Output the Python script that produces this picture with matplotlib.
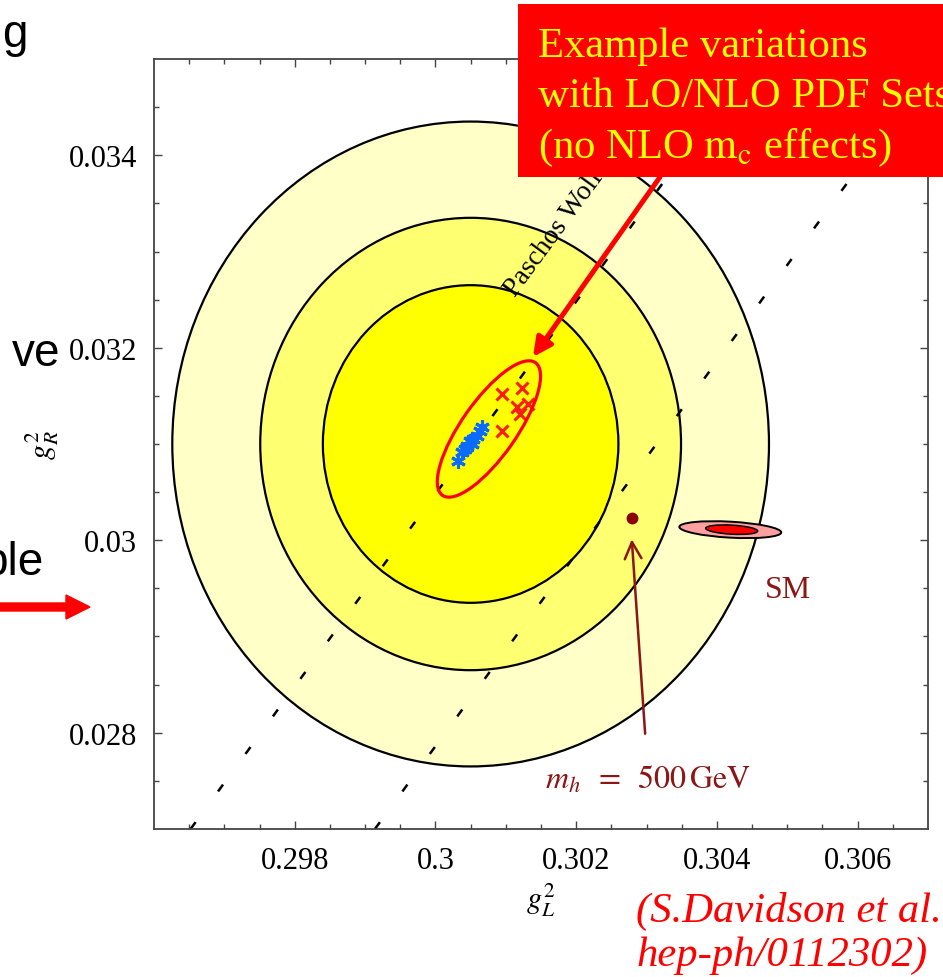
import matplotlib.pyplot as plt
from matplotlib.patches import Ellipse, Rectangle, FancyArrow
from matplotlib.transforms import ScaledTranslation

plt.rcParams['font.family'] = ['Liberation Serif', 'DejaVu Serif']
plt.rcParams['mathtext.fontset'] = 'stix'

# global fit: centre and half-axes of the three contours (outer -> inner)
fit_gl, fit_gr = 0.3005, 0.0310
contour_half_gl = [0.00424, 0.00299, 0.00210]
contour_half_gr = [0.00335, 0.00235, 0.00165]
contour_colours = ['#ffffc8', '#ffff72', '#ffff00']

# Paschos-Wolfenstein lines, g_R^2 = g_L^2 + offset
pw_offsets = [-0.26952, -0.27214]

# PDF set variations
blue_gl = [0.30032, 0.30038, 0.30045, 0.30049, 0.30053, 0.30059, 0.30063, 0.30066, 0.30042, 0.30052]
blue_gr = [0.03082, 0.03092, 0.03098, 0.03103, 0.03105, 0.03108, 0.03114, 0.03118, 0.03095, 0.03100]
red_gl = [0.30095, 0.30123, 0.30116, 0.30120, 0.30132, 0.30095]
red_gr = [0.03152, 0.03158, 0.03138, 0.03131, 0.03142, 0.03113]

# heavy Higgs point and SM ellipse
mh500_gl, mh500_gr = 0.30279, 0.03023
sm_gl, sm_gr = 0.30419, 0.03011

xticks = [0.298, 0.300, 0.302, 0.304, 0.306]
yticks = [0.028, 0.030, 0.032, 0.034]

W, H = 943, 978
fig = plt.figure(figsize=(W / 100, H / 100), dpi=100)
fig.patch.set_facecolor('white')
ax = fig.add_axes([154 / W, 1 - 830 / H, 774 / W, 770 / H])
ax.set_xlim(0.296, 0.307)
ax.set_ylim(0.027, 0.035)

for hx, hy, c in zip(contour_half_gl, contour_half_gr, contour_colours):
    ax.add_patch(Ellipse((fit_gl, fit_gr), 2 * hx, 2 * hy, facecolor=c,
                         edgecolor='black', lw=1.6, zorder=1))

ylim = ax.get_ylim()
for off in pw_offsets:
    ax.plot([ylim[0] - off, ylim[1] - off], ylim, color='black', lw=1.8,
            linestyle=(0, (3.4, 15.2)), zorder=2)

ax.text(0.30113, 0.03253, 'Paschos Wolfenstein', rotation=53.7,
        rotation_mode='anchor', ha='left', va='baseline', fontsize=20, zorder=3)

# SM prediction
ax.add_patch(Ellipse((sm_gl, sm_gr), 0.00145, 0.000166, angle=-2.3,
                     facecolor='#ff9f9f', edgecolor='black', lw=1.4, zorder=3))
ax.add_patch(Ellipse((sm_gl + 0.00002, sm_gr), 0.00074, 0.000094, angle=-2.3,
                     facecolor='#ff0000', edgecolor='black', lw=1.1, zorder=3))
ax.text(0.30501, 0.02949, 'SM', color='#8c1515', fontsize=23,
        ha='center', va='center')

# heavy Higgs
ax.plot([mh500_gl], [mh500_gr], 'o', color='#8b0000', ms=7.5, zorder=4)
ax.annotate('', xy=(mh500_gl, 0.03001), xytext=(0.30298, 0.02799),
            arrowprops=dict(arrowstyle='->', color='#8c1515', lw=1.8,
                            mutation_scale=30, shrinkA=0, shrinkB=0))
ax.text(0.30156, 0.02752, r'$m_h\;\;=\;\;500\,\mathrm{GeV}$', color='#8c1515',
        fontsize=23, ha='left', va='center')

# PDF variations
ax.plot(blue_gl, blue_gr, linestyle='none', marker=(6, 2, 0), color='#0a6cff',
        ms=10.5, mew=2.2, zorder=5)
ax.plot(red_gl, red_gr, linestyle='none', marker='x', color='#ff1a1a',
        ms=8.5, mew=2.2, zorder=5)
ell_tr = fig.dpi_scale_trans + ScaledTranslation(0.30076, 0.031156, ax.transData)
ax.add_patch(Ellipse((0, 0), 1.62, 0.55, angle=55, transform=ell_tr,
                     facecolor='none', edgecolor='#ff0000', lw=2.3, zorder=6))

# axes styling
ax.set_xticks(xticks)
ax.set_xticklabels(['{:g}'.format(v) for v in xticks])
ax.set_yticks(yticks)
ax.set_yticklabels(['{:g}'.format(v) for v in yticks])
ax.set_xticks([0.2965 + 0.0005 * i for i in range(21)], minor=True)
ax.set_yticks([0.0275 + 0.0005 * i for i in range(15)], minor=True)
ax.tick_params(which='both', direction='in', top=True, right=True,
               labelsize=22, width=1.0, color='#444444')
ax.tick_params(which='major', length=6, pad=12)
ax.tick_params(which='minor', length=3.5)
for s in ax.spines.values():
    s.set_color('#444444')
    s.set_linewidth(1.3)
ax.set_xlabel(r'$g_L^2$', fontsize=22, labelpad=4)
ax.set_ylabel(r'$g_R^2$', fontsize=22, labelpad=6)

# callout box with arrow
ax.annotate('', xy=(0.301386, 0.031904), xytext=(0.303191, 0.033774),
            arrowprops=dict(arrowstyle='-|>', color='red', lw=3.6,
                            mutation_scale=28, shrinkA=0, shrinkB=0),
            annotation_clip=False, zorder=7)
fig.patches.append(Rectangle((518 / W, 1 - 178 / H), 430 / W, 173 / H,
                             transform=fig.transFigure, facecolor='#ff0000',
                             edgecolor='none', zorder=8))
box_lines = ['Example variations', 'with LO/NLO PDF Sets',
             r'(no NLO $\mathrm{m_c}$ effects)']
for txt, base in zip(box_lines, [57, 107, 158]):
    fig.text(538 / W, 1 - base / H, txt, color='#ffff00', fontsize=30.7,
             ha='left', va='baseline', zorder=9)

# citation
for txt, base in zip(['(S.Davidson et al.', 'hep-ph/0112302)'], [922, 966]):
    fig.text(636 / W, 1 - base / H, txt, color='#ff0000', fontsize=30.7,
             style='italic', ha='left', va='baseline')

# slide text around the figure
for txt, x, base in [('g', 2, 47), ('ve', 60, 366), ('ble', 43, 575)]:
    fig.text(x / W, 1 - base / H, txt, family='Liberation Sans', fontsize=33,
             ha='left' if txt == 'g' else 'right', va='baseline')
fig.patches.append(FancyArrow(0, 1 - 608 / H, 90 / W, 0, width=8 / H,
                              head_width=24 / H, head_length=24 / W,
                              length_includes_head=True, color='#ff0000',
                              transform=fig.transFigure))

fig.savefig('out.png', dpi=100)
